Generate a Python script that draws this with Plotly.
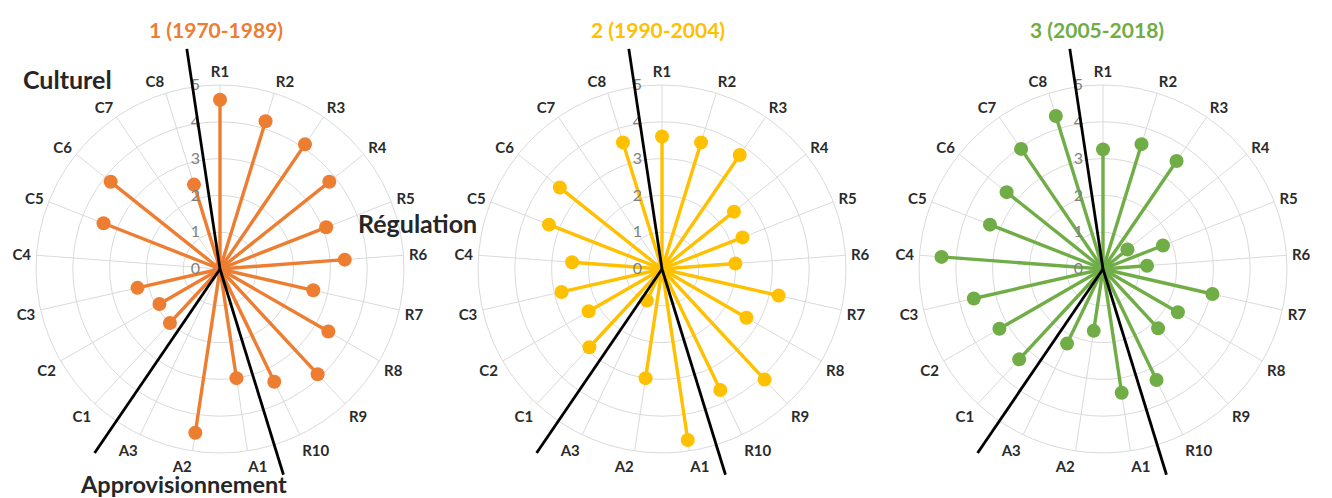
import math
import plotly.graph_objects as go

# ---------------- data ----------------
categories = ["R1", "R2", "R3", "R4", "R5", "R6", "R7", "R8", "R9", "R10",
              "A1", "A2", "A3",
              "C1", "C2", "C3", "C4", "C5", "C6", "C7", "C8"]

period_titles = ["1 (1970-1989)", "2 (1990-2004)", "3 (2005-2018)"]

values_p1 = [4.6, 4.2, 4.1, 3.8, 3.1, 3.4, 2.6, 3.4, 3.9, 3.4,
             3.0, 4.5, 0.0,
             2.0, 1.9, 2.3, 0.0, 3.4, 3.8, 0.0, 2.4]
values_p2 = [3.6, 3.6, 3.75, 2.5, 2.35, 2.0, 3.25, 2.65, 4.1, 3.65,
             4.7, 3.0, 0.95,
             2.9, 2.3, 2.8, 2.45, 3.3, 3.55, 0.0, 3.6]
values_p3 = [3.25, 3.55, 3.55, 0.85, 1.75, 1.2, 3.05, 2.35, 2.2, 3.35,
             3.4, 1.7, 2.25,
             3.35, 3.25, 3.6, 4.4, 3.3, 3.35, 3.95, 4.35]

series = [values_p1, values_p2, values_p3]
colors = ["#ED7D31", "#FFC000", "#70AD47"]

radial_ticks = [0, 1, 2, 3, 4, 5]
group_labels = ["Culturel", "Régulation", "Approvisionnement"]

# ---------------- layout geometry ----------------
W, H = 1332, 498
OFF = 8                      # page body margin in the browser
centers_x = [220 - OFF, 662 - OFF, 1103 - OFF]
center_y = 269 - OFF
radius_px = 184
r_max = 5

fig = go.Figure()

for i, (vals, col) in enumerate(zip(series, colors)):
    sub = "polar" if i == 0 else f"polar{i+1}"
    r_line, th_line = [], []
    for c, v in zip(categories, vals):
        r_line += [0, v, None]
        th_line += [c, c, None]
    fig.add_trace(go.Scatterpolar(
        r=r_line, theta=th_line, mode="lines",
        line=dict(color=col, width=3.4), subplot=sub,
        hoverinfo="skip", showlegend=False, connectgaps=False))
    fig.add_trace(go.Scatterpolar(
        r=vals, theta=categories, mode="markers",
        marker=dict(color=col, size=14), subplot=sub,
        showlegend=False))

grid_col = "#dadada"
for i in range(3):
    cx = centers_x[i]
    dom_x = [(cx - radius_px) / W, (cx + radius_px) / W]
    cyp = H - center_y
    dom_y = [(cyp - radius_px) / H, (cyp + radius_px) / H]
    key = "polar" if i == 0 else f"polar{i+1}"
    fig.layout[key] = dict(
        domain=dict(x=dom_x, y=dom_y),
        bgcolor="white",
        gridshape="circular",
        radialaxis=dict(
            range=[0, r_max], tickvals=radial_ticks, showline=False,
            gridcolor=grid_col, gridwidth=1, angle=90, side="counterclockwise",
            tickfont=dict(family="Lato", size=16, color="#808080"),
            ticks="outside", ticklen=14, tickcolor="rgba(0,0,0,0)",
            tickangle=90),
        angularaxis=dict(
            type="category", categoryarray=categories, categoryorder="array",
            rotation=90, direction="clockwise",
            showline=True, linecolor=grid_col, linewidth=1,
            gridcolor=grid_col, gridwidth=1,
            ticks="outside", ticklen=2, tickcolor="rgba(0,0,0,0)",
            tickfont=dict(family="Lato", size=15, color="#2b2b2b",
                          weight="bold")),
    )

# separator lines between the service groups (boundaries between categories)
n = len(categories)
step = 360.0 / n
sep_angles = [(n - 0.5) * step, 9.5 * step, 12.5 * step]   # C8|R1, R10|A1, A3|C1
sep_lengths = [6.05, 5.85, 6.05]
shapes = []
for i in range(3):
    cx = centers_x[i]
    for ang, ln in zip(sep_angles, sep_lengths):
        L = ln * radius_px / r_max
        a = math.radians(ang)
        x1 = cx + L * math.sin(a)
        y1 = center_y - L * math.cos(a)
        shapes.append(dict(type="line", xref="paper", yref="paper",
                           x0=cx / W, y0=(H - center_y) / H,
                           x1=x1 / W, y1=(H - y1) / H,
                           line=dict(color="black", width=2.8)))

annotations = []
title_x = [216 - OFF, 658 - OFF, 1097 - OFF]
title_y = 30 - OFF
for t, col, tx in zip(period_titles, colors, title_x):
    annotations.append(dict(text=f"<b>{t}</b>", x=tx / W, y=(H - title_y) / H,
                            xref="paper", yref="paper", showarrow=False,
                            xanchor="center", yanchor="middle",
                            font=dict(family="Lato", size=21, color=col)))
group_pos = [(67 - OFF, 79 - OFF, 25), (417 - OFF, 223 - OFF, 25),
             (183 - OFF, 484 - OFF, 23.5)]
for lab, (gx, gy, fs) in zip(group_labels, group_pos):
    annotations.append(dict(text=f"<b>{lab}</b>", x=gx / W, y=(H - gy) / H,
                            xref="paper", yref="paper", showarrow=False,
                            xanchor="center", yanchor="middle",
                            font=dict(family="Lato", size=fs, color="#262626")))

fig.update_layout(width=W, height=H, margin=dict(l=0, r=0, t=0, b=0),
                  paper_bgcolor="white", plot_bgcolor="white",
                  shapes=shapes, annotations=annotations, showlegend=False)

fig.write_html("out.html")
